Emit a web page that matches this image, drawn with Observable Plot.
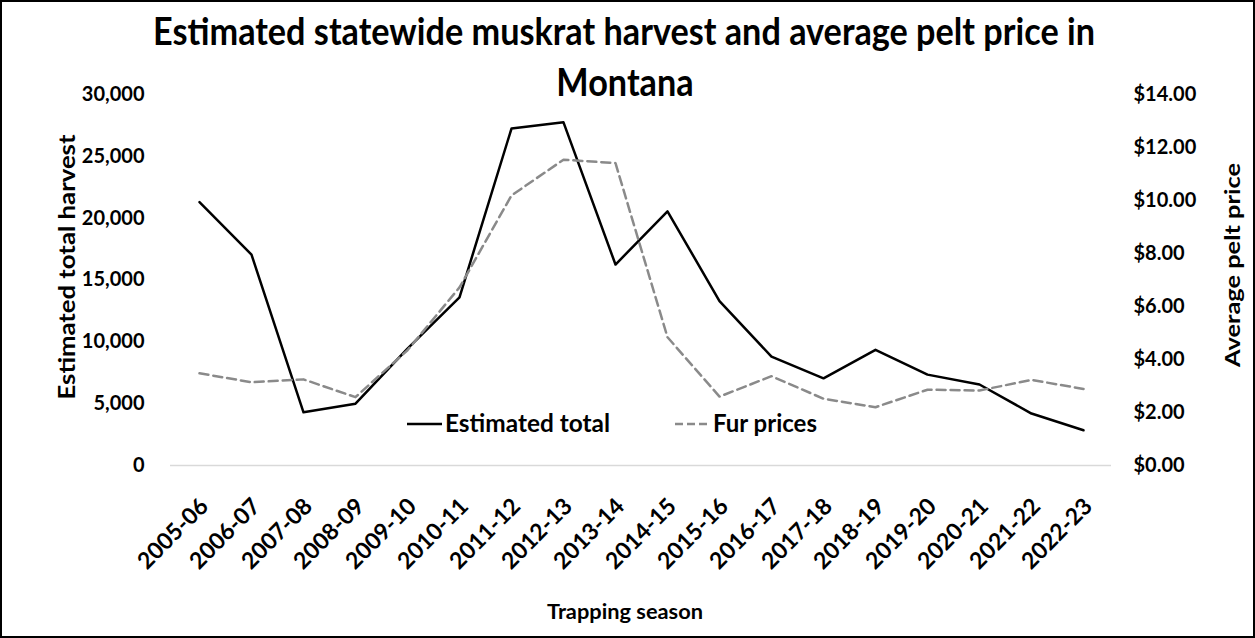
<!DOCTYPE html>
<html>
<head>
<meta charset="utf-8">
<script src="https://cdn.jsdelivr.net/npm/d3@7"></script>
<script src="https://cdn.jsdelivr.net/npm/@observablehq/plot@0.6"></script>
<style>
  html, body { margin: 0; padding: 0; background: #fff; }
  #wrap { position: relative; width: 1255px; height: 638px; overflow: hidden; background: #fff; font-family: Lato, "Open Sans", sans-serif; }
  #chart { position: absolute; left: 0; top: 0; }
  #frame { position: absolute; left: 0; top: 0; width: 1255px; height: 638px; box-sizing: border-box; border: 2px solid #000; pointer-events: none; }
  .t { position: absolute; white-space: nowrap; font-weight: 700; color: #000; line-height: 1; }
  .sw { position: absolute; }
</style>
</head>
<body>
<div id="wrap">
  <div id="chart"></div>
  <div class="t" id="title1">Estimated statewide muskrat harvest and average pelt price in</div>
  <div class="t" id="title2">Montana</div>
  <div class="t" id="ylabL">Estimated total harvest</div>
  <div class="t" id="ylabR">Average pelt price</div>
  <div class="t" id="xlab">Trapping season</div>
  <svg class="sw" id="sw1" width="40" height="10"><line x1="2" x2="37" y1="5" y2="5" stroke="#000" stroke-width="2.5"/></svg>
  <div class="t" id="leg1">Estimated total</div>
  <svg class="sw" id="sw2" width="40" height="10"><line x1="2" x2="35" y1="5" y2="5" stroke="#8a8a8a" stroke-width="2.5" stroke-dasharray="8,4"/></svg>
  <div class="t" id="leg2">Fur prices</div>
  <div id="frame"></div>
</div>
<script>
// ---- data ----
const seasons = ["2005-06","2006-07","2007-08","2008-09","2009-10","2010-11","2011-12","2012-13","2013-14","2014-15","2015-16","2016-17","2017-18","2018-19","2019-20","2020-21","2021-22","2022-23"];
const harvest = [21300,17050,4300,5000,9450,13600,27250,27750,16250,20550,13300,8800,7050,9350,7350,6550,4200,2850];
const price = [3.48,3.14,3.25,2.58,4.35,6.72,10.19,11.54,11.41,4.84,2.60,3.37,2.52,2.20,2.86,2.83,3.23,2.89];
const harvestTicks = [0,5000,10000,15000,20000,25000,30000];
const priceTicks = [0,2,4,6,8,10,12,14];
const harvestMax = 30000;
const priceMax = 14;

const k = harvestMax / priceMax;
const rows = seasons.map((season, i) => ({season, harvest: harvest[i], price: price[i]}));

const chart = Plot.plot({
  width: 1255,
  height: 638,
  marginTop: 94,
  marginBottom: 173,
  marginLeft: 170,
  marginRight: 144,
  style: {fontFamily: "Lato, 'Open Sans', sans-serif", color: "#000", background: "transparent", overflow: "visible"},
  x: {type: "point", domain: seasons, padding: 0.5},
  y: {domain: [0, harvestMax]},
  marks: [
    Plot.ruleY([0], {stroke: "#d9d9d9", strokeWidth: 1.5}),
    Plot.axisY(harvestTicks, {anchor: "left", tickSize: 0, tickPadding: 26, tickFormat: d3.format(","), fontSize: 20, fontWeight: "bold", label: null}),
    Plot.axisY(priceTicks.map(p => p * k), {anchor: "right", tickSize: 0, tickPadding: 22, tickFormat: d => "$" + (d / k).toFixed(2), fontSize: 20, fontWeight: "bold", label: null}),
    Plot.axisX({anchor: "bottom", tickSize: 0, tickPadding: 37, tickRotate: -45, dx: 5, fontSize: 23, fontWeight: "bold", label: null}),
    Plot.line(rows, {x: "season", y: "harvest", stroke: "#000", strokeWidth: 2.5}),
    Plot.line(rows, {x: "season", y: d => d.price * k, stroke: "#8a8a8a", strokeWidth: 2.5, strokeDasharray: "9,5"})
  ]
});
document.getElementById("chart").appendChild(chart);

// ---- text placement helpers ----
function placeCenter(id, {cx, cy, fs, width, rotate = 0, scale}) {
  const el = document.getElementById(id);
  el.style.fontSize = fs + "px";
  el.style.left = cx + "px";
  el.style.top = cy + "px";
  const w0 = el.getBoundingClientRect().width;
  const s = scale != null ? scale : (width ? width / w0 : 1);
  el.style.transform = `translate(-50%,-50%) rotate(${rotate}deg) scaleX(${s})`;
  return s;
}
function placeLeft(id, {x, baseline, fs, width}) {
  const el = document.getElementById(id);
  el.style.fontSize = fs + "px";
  el.style.left = x + "px";
  el.style.top = (baseline - 0.887 * fs) + "px";
  const w0 = el.getBoundingClientRect().width;
  el.style.transformOrigin = "0 0";
  el.style.transform = `scaleX(${width / w0})`;
}

const s1 = placeCenter("title1", {cx: 624, cy: 45 - 0.387 * 38, fs: 38, width: 942});
placeCenter("title2", {cx: 625, cy: 96 - 0.387 * 38, fs: 38, scale: s1});
placeCenter("ylabL", {cx: 67, cy: 267, fs: 22, width: 265, rotate: -90});
placeCenter("ylabR", {cx: 1232, cy: 265, fs: 20, width: 204, rotate: -90});
placeCenter("xlab", {cx: 625, cy: 619 - 0.387 * 20, fs: 20, width: 156});
placeLeft("leg1", {x: 445, baseline: 432, fs: 25, width: 165});
placeLeft("leg2", {x: 713, baseline: 432, fs: 25, width: 104});
const sw1 = document.getElementById("sw1"); sw1.style.left = "405px"; sw1.style.top = "419px";
const sw2 = document.getElementById("sw2"); sw2.style.left = "673px"; sw2.style.top = "419px";
</script>
</body>
</html>
